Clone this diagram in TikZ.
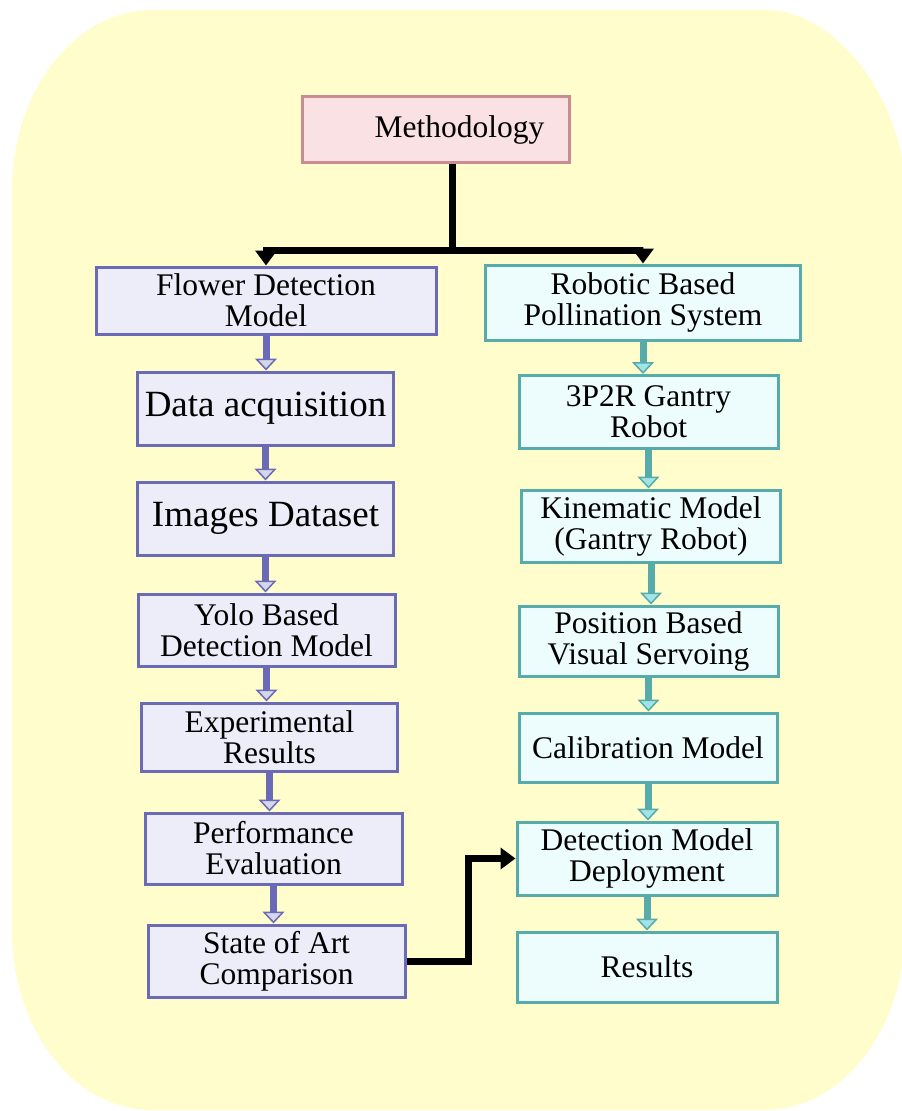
\documentclass[tikz,border=0pt]{standalone}
\usepackage{fontspec}
\setmainfont{Liberation Serif}
\usetikzlibrary{arrows.meta, calc, positioning}
\definecolor{hintergrund}{HTML}{FFFDCC}
\definecolor{rosa}{HTML}{F9E1E4}
\definecolor{rosarand}{HTML}{C98C90}
\definecolor{lila}{HTML}{EDEDF9}
\definecolor{lilarand}{HTML}{6A6AB6}
\definecolor{lilaspitze}{HTML}{D5D5EC}
\definecolor{tuerkis}{HTML}{EDFDFD}
\definecolor{tuerkisrand}{HTML}{58ABAB}
\definecolor{tuerkisspitze}{HTML}{A0E4E8}
\newcommand{\boxfont}{\fontsize{31.5}{31}\selectfont}
\newcommand{\bigboxfont}{\fontsize{37}{40}\selectfont}

\begin{document}
\begin{tikzpicture}[x=1pt, y=-1pt,
    box/.style={draw, line width=3pt, inner sep=0pt, align=center,
                minimum width=257pt, minimum height=71pt, font=\boxfont},
    linksbox/.style={box, fill=lila, draw=lilarand},
    rechtsbox/.style={box, fill=tuerkis, draw=tuerkisrand},
    kopfbox/.style={box, fill=rosa, draw=rosarand},
    schwarzpfeil/.style={line width=7pt, -{Triangle[width=21pt, length=15pt]}},
    linkspfeil/.style={lilarand, line width=7pt,
        -{Triangle[width=22pt, length=12pt, fill=lilaspitze, line width=1.5pt]}},
    rechtspfeil/.style={tuerkisrand, line width=7pt,
        -{Triangle[width=22pt, length=12pt, fill=tuerkisspitze, line width=1.5pt]}}]
      \useasboundingbox (0,0) rectangle (902,1111);

      % --- Hintergrund: gelbe Flaeche mit runden Ecken ---
      \fill[hintergrund] (152,10) -- (765,10)
          .. controls (842,10) and (905,109) .. (905,190) -- (905,930)
          .. controls (905,1029) and (842,1110) .. (765,1110) -- (152,1110)
          .. controls (75,1110) and (12,1031) .. (12,930) -- (12,190)
          .. controls (12,91) and (75,10) .. (152,10) -- cycle;

      % Kopf
      \node[kopfbox, minimum width=267pt, minimum height=66pt] (meth) at (435.5,129.5)
          {\hspace*{48pt}Methodology};

      % linke Spalte
      \node[linksbox, minimum width=340pt, minimum height=67pt] (fdm) at (266,300.5)
          {Flower Detection\\Model};
      \node[linksbox, minimum width=256pt, minimum height=73pt, font=\bigboxfont] (da) at (265.5,408.5)
          {Data acquisition};
      \node[linksbox, minimum width=256pt, minimum height=73pt, font=\bigboxfont] (ids) at (265.5,518.5)
          {Images Dataset};
      \node[linksbox, minimum height=72pt] (yolo) at (266.5,630)
          {Yolo Based\\Detection Model};
      \node[linksbox, minimum width=256pt, minimum height=68pt] (exp) at (269.5,737)
          {Experimental\\Results};
      \node[linksbox] (perf) at (273.5,848.5)
          {Performance\\Evaluation};
      \node[linksbox, minimum height=72pt] (sota) at (276.5,961)
          {State of Art\\Comparison};

      % rechte Spalte
      \node[rechtsbox, minimum width=315pt, minimum height=75pt] (robo) at (643,302.5)
          {Robotic Based\\Pollination System};
      \node[rechtsbox, minimum width=259pt, minimum height=73pt] (gantry) at (648.5,412)
          {3P2R Gantry\\Robot};
      \node[rechtsbox, minimum width=259pt, minimum height=72pt] (kine) at (651,526)
          {Kinematic Model\\(Gantry Robot)};
      \node[rechtsbox, minimum width=259pt, minimum height=70pt] (pbvs) at (648.5,641)
          {Position Based\\Visual Servoing};
      \node[rechtsbox, minimum width=258pt, minimum height=69pt] (calib) at (648,747.5)
          {Calibration Model};
      \node[rechtsbox, minimum width=260pt, minimum height=73pt] (deploy) at (647,858.5)
          {Detection Model\\Deployment};
      \node[rechtsbox, minimum width=260pt, minimum height=70pt] (res) at (647,967)
          {Results};

      % Pfeile vom Kopf
      \coordinate (split) at (452,250);
      \draw[line width=7pt] (meth.south -| split) -- (split);
      \draw[schwarzpfeil] (split) -| (fdm.north);
      \draw[schwarzpfeil] (split) -| (robo.north);

      % Pfeile in den Spalten
      \foreach \von/\nach in {fdm/da, da/ids, ids/yolo, yolo/exp, exp/perf, perf/sota}
        \draw[linkspfeil] (\von.south) -- (\von.south |- \nach.north);
      \foreach \von/\nach in {robo/gantry, gantry/kine, kine/pbvs, pbvs/calib, calib/deploy, deploy/res}
        \draw[rechtspfeil] (\von.south) -- (\von.south |- \nach.north);

      % Querverbindung
      \draw[schwarzpfeil] (sota.east) -- ++(62,0) |- (deploy.west);
    \end{tikzpicture}
\end{document}
